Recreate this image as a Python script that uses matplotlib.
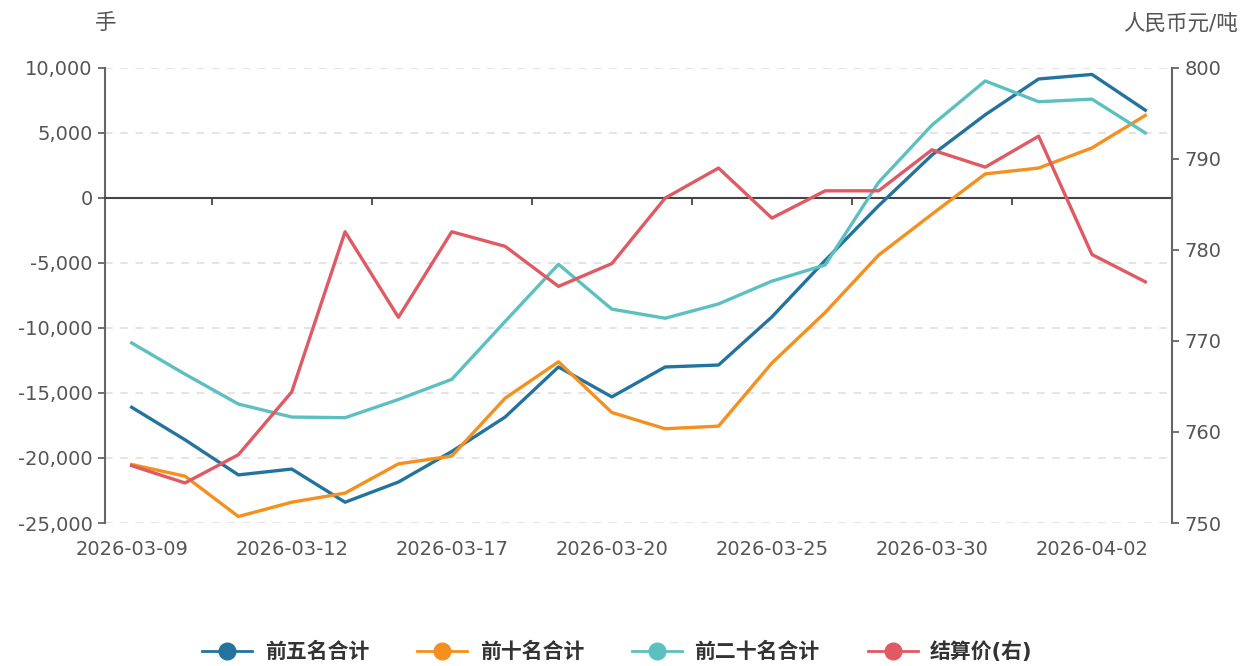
import matplotlib.pyplot as plt
from matplotlib.lines import Line2D

plt.rcParams['font.family'] = ['DejaVu Sans', 'Noto Sans CJK SC']

# 数据
dates = ['2026-03-09', '2026-03-10', '2026-03-11', '2026-03-12', '2026-03-13',
         '2026-03-16', '2026-03-17', '2026-03-18', '2026-03-19', '2026-03-20',
         '2026-03-23', '2026-03-24', '2026-03-25', '2026-03-26', '2026-03-27',
         '2026-03-30', '2026-03-31', '2026-04-01', '2026-04-02', '2026-04-03']
top5 = [-16100, -18600, -21300, -20850, -23400, -21850, -19500, -16850, -13000, -15300,
        -13000, -12850, -9150, -4800, -600, 3300, 6400, 9150, 9500, 6750]
top10 = [-20500, -21400, -24500, -23400, -22700, -20450, -19850, -15400, -12600, -16500,
         -17750, -17550, -12700, -8800, -4400, -1250, 1850, 2300, 3850, 6350]
top20 = [-11150, -13550, -15850, -16850, -16900, -15500, -13950, -9500, -5100, -8550,
         -9250, -8150, -6400, -5150, 1200, 5600, 9000, 7400, 7600, 5000]
settle = [756.3, 754.4, 757.5, 764.4, 782.0, 772.6, 782.0, 780.4, 776.0, 778.5,
          785.7, 789.0, 783.5, 786.5, 786.5, 791.0, 789.1, 792.5, 779.5, 776.5]

c_blue = '#24739f'
c_orange = '#f5901f'
c_teal = '#5dc0c0'
c_red = '#df5a62'
axis_c = '#666666'
text_c = '#555555'

x = list(range(len(dates)))

fig = plt.figure(figsize=(12.5, 6.66), dpi=100)
ax = fig.add_axes([0.084, 0.2147, 0.8536, 0.6833])
ax2 = ax.twinx()

lw = 2.4
ax.plot(x, top5, color=c_blue, lw=lw, zorder=3)
ax.plot(x, top10, color=c_orange, lw=lw, zorder=3)
ax.plot(x, top20, color=c_teal, lw=lw, zorder=3)
ax2.plot(x, settle, color=c_red, lw=lw, zorder=3)

ax.set_xlim(-0.5, len(dates) - 0.5)
ax.set_ylim(-25000, 10000)
ax.set_yticks(range(-25000, 10001, 5000))
ax.yaxis.set_major_formatter(plt.FuncFormatter(lambda v, p: f'{int(v):,}'))
ax2.set_ylim(750, 800)
ax2.set_yticks(range(750, 801, 10))

# 网格
for v in range(-25000, 10001, 5000):
    if v != 0:
        ax.axhline(v, color='#dddddd', lw=1.1, dashes=(5, 5), zorder=0)

# 零轴 + 刻度
ax.spines['bottom'].set_position(('data', 0))
ax.spines['bottom'].set_color('#444444')
ax.spines['bottom'].set_linewidth(1.5)
ax.set_xticks([i + 1.5 for i in x[:-2:3]])
ax.set_xticklabels([])
ax.tick_params(axis='x', direction='out', length=5, width=1.3, color='#444444')

sec = ax.secondary_xaxis(0)
sec.set_xticks(x[::3], labels=dates[::3])
sec.tick_params(length=0, pad=12, labelsize=14, labelcolor=text_c)
sec.spines['bottom'].set_visible(False)

for a in (ax, ax2):
    a.spines['top'].set_visible(False)
ax.spines['right'].set_visible(False)
ax2.spines['bottom'].set_visible(False)
ax2.spines['left'].set_visible(False)
ax.spines['left'].set_color(axis_c)
ax.spines['left'].set_linewidth(1.5)
ax2.spines['right'].set_color(axis_c)
ax2.spines['right'].set_linewidth(1.5)
ax.tick_params(axis='y', length=5, width=1.3, color=axis_c, labelsize=14, labelcolor=text_c, pad=4)
ax2.tick_params(axis='y', length=5, width=1.3, color=axis_c, labelsize=14, labelcolor=text_c, pad=4)

fig.text(106 / 1250, 1 - 23 / 666, '手', fontsize=15.5, color=text_c, ha='center', va='center')
fig.text(1238 / 1250, 1 - 23 / 666, '人民币元/吨', fontsize=15.5, color=text_c, ha='right', va='center')

handles = [Line2D([], [], color=c, lw=2, marker='o', markersize=12) for c in (c_blue, c_orange, c_teal, c_red)]
labels = ['前五名合计', '前十名合计', '前二十名合计', '结算价(右)']
fig.legend(handles, labels, loc='center', bbox_to_anchor=(0.494, 1 - 652 / 666), ncol=4, frameon=False,
           prop={'size': 15, 'weight': 'bold'}, labelcolor='#333333', handlelength=2.4,
           columnspacing=2.3, handletextpad=0.6)

plt.savefig('out.png', dpi=100)
